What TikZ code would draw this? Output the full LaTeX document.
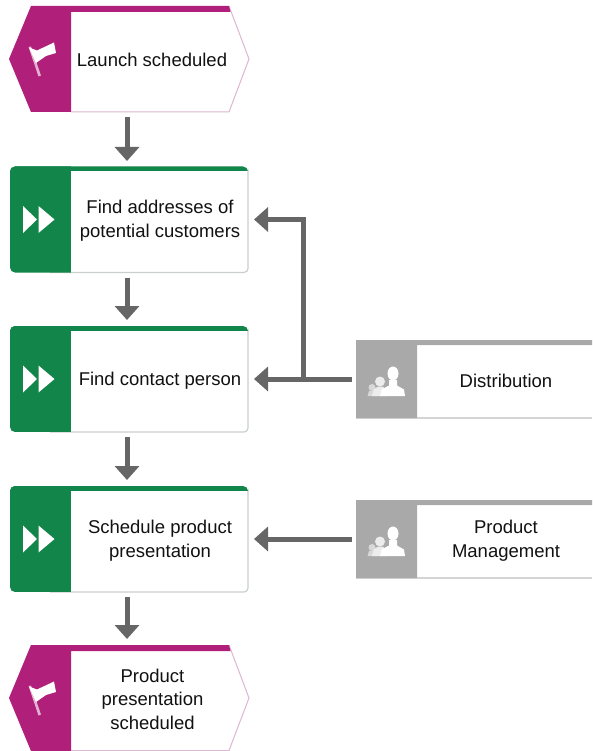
\documentclass[tikz,border=0pt]{standalone}
\usepackage{fontspec}
\setmainfont{Liberation Sans}
\usetikzlibrary{arrows.meta,calc}
\definecolor{evc}{HTML}{B01F7A}
\definecolor{evl}{HTML}{DDB6D0}
\definecolor{fnc}{HTML}{12854A}
\definecolor{fnl}{HTML}{C9CFCB}
\definecolor{orc}{HTML}{A9A9A9}
\definecolor{orl}{HTML}{D4D4D4}
\definecolor{cnc}{HTML}{666666}
\definecolor{txc}{HTML}{111111}
\tikzset{
  frame/.style={minimum width=#1,minimum height=106pt,inner sep=0pt,outer sep=0pt},
  lbl/.style={font=\fontsize{18.5}{23.5}\selectfont,align=center,text=txc,inner sep=0pt},
  conn/.style={draw=cnc,line width=5pt,-{Triangle[length=14pt,width=24pt]}},
  link/.style={conn,shorten >=6pt,shorten <=5pt},
  evicon/.pic={
    \fill[white!65!evc] (-1.5,-13) -- (1,-13.5) -- (11,15.5) -- (8.5,16.5) -- cycle;
    \fill[white] (-1,-12.5) -- (7,-9.5) -- (24,-17.5) -- (26,-7) -- (16,-4) -- (6,3) -- cycle;
  },
  fnicon/.pic={
    \fill[white] (-16.5,-13.5) -- (-2.5,0) -- (-16.5,13.5) -- cycle;
    \fill[white] (-1,-13.5) -- (15,0) -- (-1,13.5) -- cycle;
  },
  oricon/.pic={
    \fill[white!55!orc] (-14,8.5) circle[radius=3.5pt];
    \fill[white!55!orc] (-18.5,17) -- (-17,12) -- (-11,12) -- (-9,17) -- cycle;
    \fill[white!78!orc] (-6,2.5) circle[radius=5pt];
    \fill[white!78!orc] (-14,17) -- (-12.5,10.5) -- (-8,7.5) -- (-3,7.5) -- (0,11) -- (0,17) -- cycle;
    \fill[white] (7,-5.5) ellipse[x radius=5.5pt,y radius=7pt];
    \fill[white] (-6,17) -- (-4.5,10.5) -- (3,6.5) -- (3,1) -- (11,1) -- (11,6.5) -- (18,10.5) -- (19,17) -- cycle;
  }
}
\begin{document}
\begin{tikzpicture}[x=1pt,y=-1pt]
\useasboundingbox (0,0) rectangle (592,751);

% Event 1
\node[frame=240pt] (e1) at (129,59) {};
\fill[white] (31,6) -- (229,6) -- (249,59) -- (229,112) -- (31,112) -- (9,59) -- cycle;
\draw[evl,line width=1pt] (71,112) -- (229,112) -- (249,59) -- (229,6);
\fill[evc] (31,6) -- (229,6) -- (230.5,12) -- (71,12) -- (71,112) -- (31,112) -- (9,59) -- cycle;
\pic at (30,60) {evicon};
\node[lbl] (e1t) at (152,59.5) {Launch scheduled};

% Functions
\foreach \n/\yc in {f1/219.5,f2/379,f3/539}{
  \node[frame=238pt] (\n) at (129,\yc) {};
  \fill[white,rounded corners=4pt] (\n.north west) rectangle (\n.south east);
  \draw[fnl,line width=1.2pt,rounded corners=4pt] ($(\n.north east)+(0,3)$) -- (\n.south east) -- ($(\n.south west)+(40,0)$);
  \begin{scope}
    \clip[rounded corners=5pt] (\n.north west) rectangle (\n.south east);
    \fill[fnc] (\n.north west) rectangle ($(\n.south west)+(61,0)$);
    \fill[fnc] (\n.north west) rectangle ($(\n.north east)+(0,5)$);
  \end{scope}
  \pic at ($(\n.west)+(29.5,0)$) {fnicon};
}
\node[lbl] (f1t) at (160,220.5) {Find addresses of\\potential customers};
\node[lbl] (f2t) at (160,380.5) {Find contact person};
\node[lbl] (f3t) at (160,540.5) {Schedule product\\presentation};

% Event 2
\node[frame=240pt] (e2) at (129,698) {};
\fill[white] (31,645) -- (229,645) -- (249,698) -- (229,751) -- (31,751) -- (9,698) -- cycle;
\draw[evl,line width=1pt] (71,750.5) -- (229,750.5) -- (249,698) -- (229,645);
\fill[evc] (31,645) -- (229,645) -- (230.5,651) -- (71,651) -- (71,751) -- (31,751) -- (9,698) -- cycle;
\pic at (30,699) {evicon};
\node[lbl] (e2t) at (152.5,699) {Product\\presentation\\scheduled};

% Org units
\foreach \n/\yc in {o1/379,o2/539}{
  \node[minimum width=236pt,minimum height=78pt,inner sep=0pt,outer sep=0pt] (\n) at (474,\yc) {};
  \fill[white] (\n.north west) rectangle (\n.south east);
  \draw[orl,line width=1.2pt] (\n.south west) -- (\n.south east);
  \fill[orc] ($(\n.south west)+(61,0)$) -- (\n.south west) -- (\n.north west) -- (\n.north east) -- ($(\n.north east)+(0,5)$) -- ($(\n.north west)+(61,5)$) -- cycle;
  \pic at ($(\n.west)+(30,0)$) {oricon};
}
\node[lbl] (o1t) at (506,380.5) {Distribution};
\node[lbl] (o2t) at (506,540.5) {Product\\Management};

% Connectors
\coordinate (e1b) at (127,112);
\coordinate (f1t2) at (127,167);
\coordinate (f1b) at (127,272.5);
\coordinate (f2t2) at (127,326);
\coordinate (f2b) at (127,432);
\coordinate (f3t2) at (127,486);
\coordinate (f3b) at (127,592);
\coordinate (e2t2) at (127,645);
\draw[link] (e1b) -- (f1t2);
\draw[link] (f1b) -- (f2t2);
\draw[link] (f2b) -- (f3t2);
\draw[link] (f3b) -- (e2t2);
\coordinate (j) at (303,379);
\draw[link,shorten <=4pt] (o1.west) -- (f2.east);
\draw[conn,shorten >=6pt] (j) |- (f1.east);
\draw[link,shorten <=4pt] (o2.west) -- (f3.east);
\end{tikzpicture}
\end{document}
